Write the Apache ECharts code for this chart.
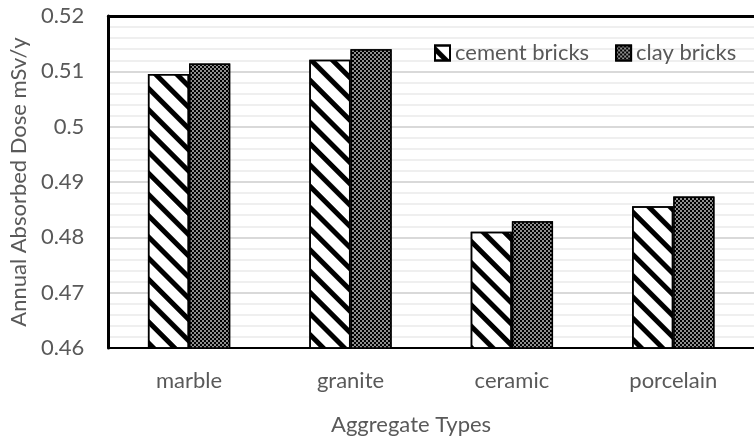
<!DOCTYPE html>
<html>
<head>
<meta charset="utf-8">
<script src="https://cdn.jsdelivr.net/npm/echarts@6/dist/echarts.min.js"></script>
<style>
  html, body { margin: 0; padding: 0; background: #fff; }
  #chart { width: 754px; height: 442px; }
</style>
</head>
<body>
<div id="chart"></div>
<script>
const categories = ['marble', 'granite', 'ceramic', 'porcelain'];
const cementBricks = [0.5095, 0.5121, 0.4810, 0.4856];
const clayBricks = [0.5114, 0.5140, 0.4829, 0.4874];
const yTicks = { min: 0.46, max: 0.52, interval: 0.01 };

const FONT = 'Lato';
const TEXT = '#595959';

const chart = echarts.init(document.getElementById('chart'), null, { renderer: 'canvas' });

// diagonal stripes, "\" direction
const stripeDecal = {
  symbol: 'rect',
  symbolSize: 1,
  color: '#000',
  dashArrayX: [1, 0],
  dashArrayY: [5, 10],
  rotation: Math.PI / 4
};

// dense small checker
const checkDecal = {
  symbol: 'rect',
  symbolSize: 0.75,
  color: '#fff',
  dashArrayX: [[2, 2], [0, 2, 2, 0]],
  dashArrayY: [2, 0],
  rotation: 0
};

const option = {
  animation: false,
  textStyle: { fontFamily: FONT },
  grid: {
    left: 106,
    top: 16,
    width: 660,
    bottom: 94
  },
  legend: {
    left: 429,
    top: 37,
    icon: 'rect',
    itemWidth: 15,
    itemHeight: 15,
    itemGap: 26,
    textStyle: { fontFamily: FONT, fontSize: 22, color: TEXT },
    data: ['cement bricks', 'clay bricks']
  },
  xAxis: [{
    type: 'category',
    data: categories,
    axisLine: { show: true, lineStyle: { color: '#000', width: 2 } },
    axisTick: { show: false },
    axisLabel: { fontFamily: FONT, fontSize: 22, color: TEXT, margin: 22 }
  }, {
    // top frame line
    type: 'category',
    position: 'top',
    data: categories,
    axisLine: { show: true, lineStyle: { color: '#000', width: 3 } },
    axisTick: { show: false },
    axisLabel: { show: false }
  }],
  yAxis: {
    type: 'value',
    min: yTicks.min,
    max: yTicks.max,
    interval: yTicks.interval,
    name: 'Annual Absorbed Dose mSv/y',
    nameLocation: 'middle',
    nameGap: 76,
    nameTextStyle: { fontFamily: FONT, fontSize: 22, color: TEXT },
    axisLine: { show: true, lineStyle: { color: '#000', width: 3 } },
    axisTick: { show: false },
    axisLabel: {
      fontFamily: FONT, fontSize: 22, color: TEXT, margin: 24,
      formatter: v => String(+v.toFixed(2))
    },
    splitLine: { show: true, lineStyle: { color: '#d9d9d9', width: 2 } },
    minorTick: { show: false, splitNumber: 5 },
    minorSplitLine: { show: true, lineStyle: { color: '#efefef', width: 2 } }
  },
  graphic: [{
    type: 'text',
    left: 331,
    top: 414,
    style: { text: 'Aggregate Types', font: '22px ' + FONT, fill: TEXT }
  }],
  series: [
    {
      name: 'cement bricks',
      type: 'bar',
      data: cementBricks,
      barGap: '0%',
      barCategoryGap: '49%',
      itemStyle: { color: '#fff', borderColor: '#000', borderWidth: 1.5, decal: stripeDecal }
    },
    {
      name: 'clay bricks',
      type: 'bar',
      data: clayBricks,
      itemStyle: { color: '#000', borderColor: '#000', borderWidth: 1.5, decal: checkDecal }
    }
  ]
};

chart.setOption(option);
</script>
</body>
</html>
